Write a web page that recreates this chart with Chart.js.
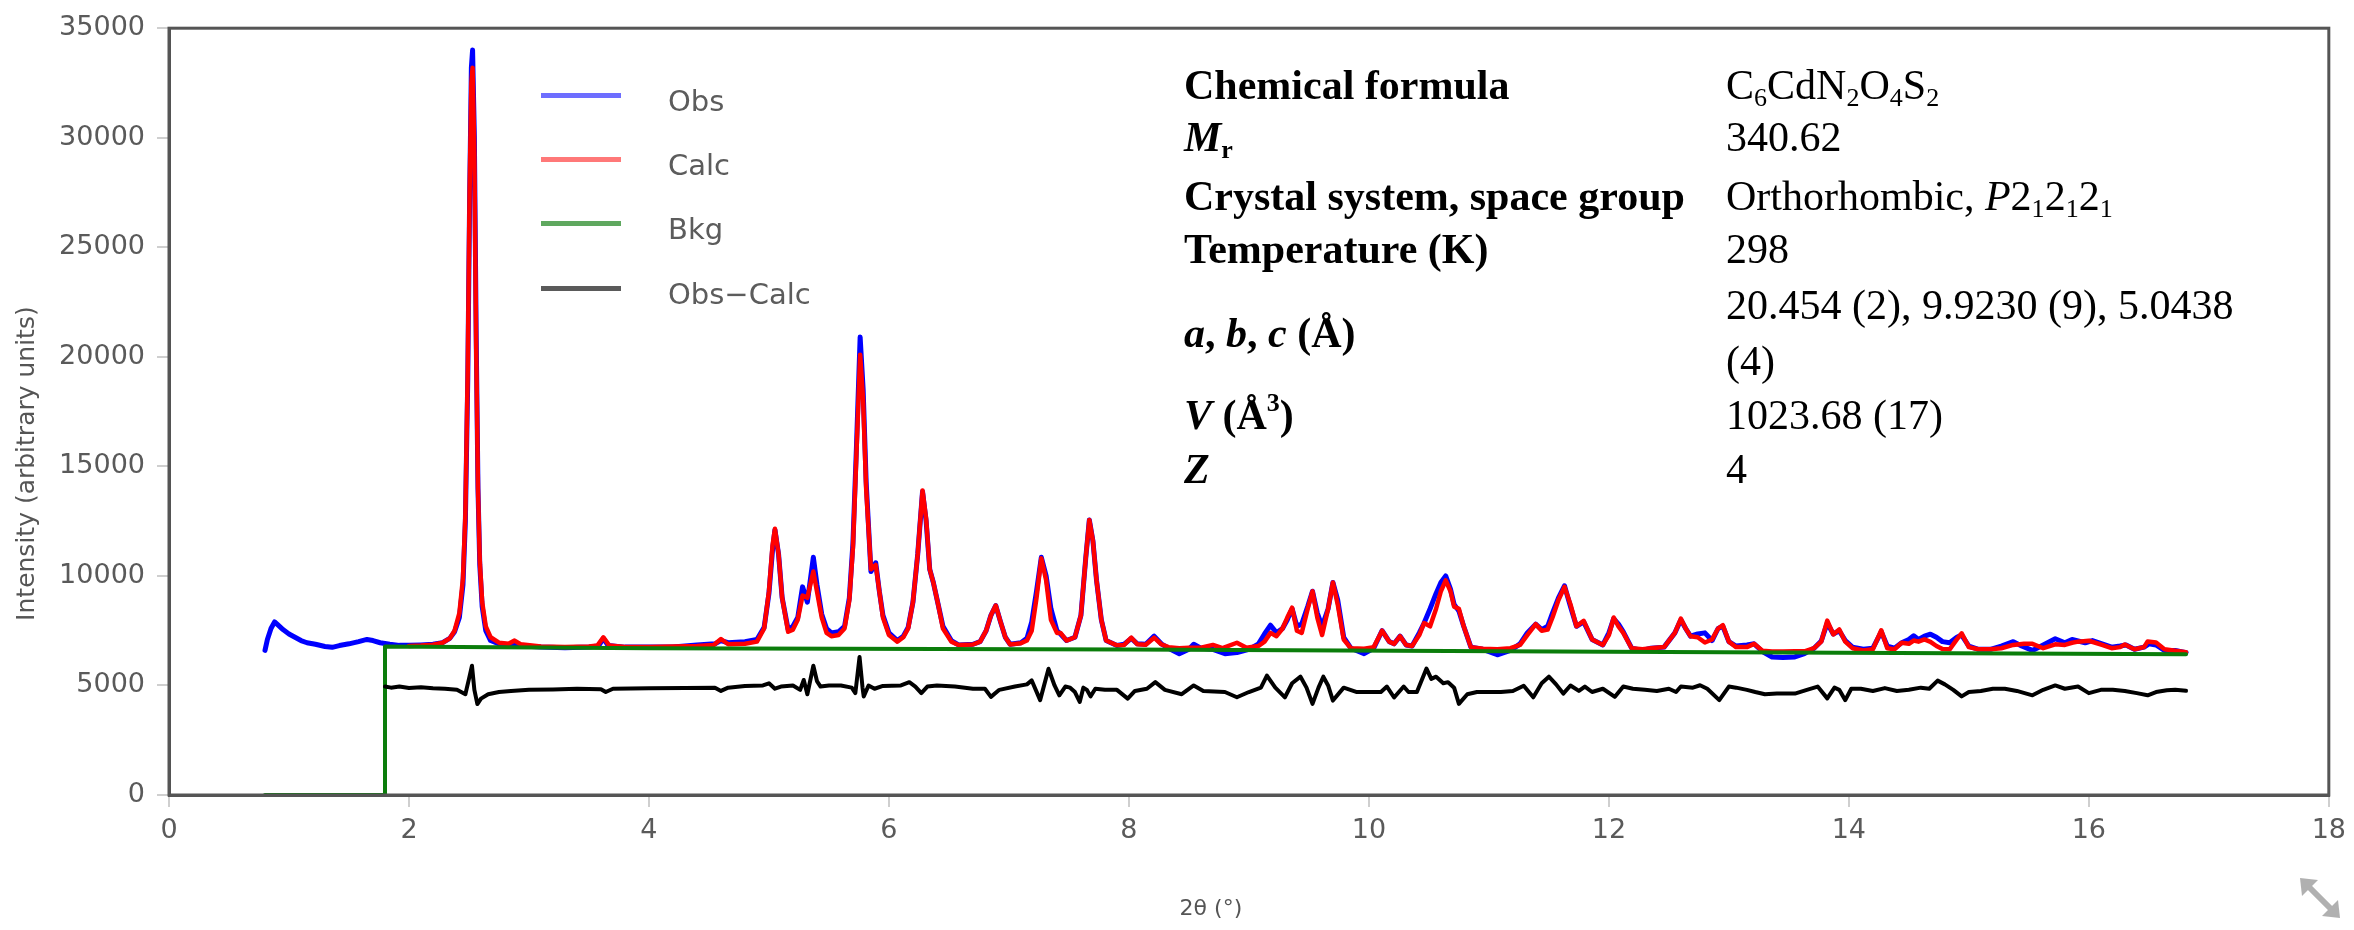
<!DOCTYPE html>
<html>
<head>
<meta charset="utf-8">
<script src="https://cdn.jsdelivr.net/npm/chart.js@4.4.1/dist/chart.umd.min.js"></script>
<style>
  html, body { margin: 0; padding: 0; background: #fff; }
  #wrap { position: relative; width: 2354px; height: 930px; overflow: hidden; }
  #chart { position: absolute; left: 0; top: 0; }
  .leg-line { position: absolute; left: 541px; width: 80px; height: 5px; }
  .leg-text { position: absolute; left: 668px; font: 29px "DejaVu Sans", sans-serif; color: #5c5c5c; line-height: 34px; height: 34px; }
  .cell { position: absolute; font-family: "Liberation Serif", "Times New Roman", serif; font-size: 42px; color: #000; line-height: 50px; height: 50px; white-space: nowrap; }
  .lab { left: 1184px; font-weight: bold; }
  .val { left: 1726px; }
  .cell sub { font-size: 0.62em; vertical-align: -0.28em; line-height: 0; }
  .cell sup { font-size: 0.62em; vertical-align: 0.7em; line-height: 0; }
  #resize { position: absolute; left: 2298px; top: 876px; width: 44px; height: 44px; }
</style>
</head>
<body>
<div id="wrap">
  <canvas id="chart" width="2354" height="930"></canvas>

  <div class="leg-line" style="top:93px; background:#6e6eff;"></div>
  <div class="leg-text" style="top:84px;">Obs</div>
  <div class="leg-line" style="top:157px; background:#ff7878;"></div>
  <div class="leg-text" style="top:148px;">Calc</div>
  <div class="leg-line" style="top:221px; background:#5fa85f;"></div>
  <div class="leg-text" style="top:212px;">Bkg</div>
  <div class="leg-line" style="top:286px; background:#5a5a5a;"></div>
  <div class="leg-text" style="top:277px;">Obs−Calc</div>

  <div class="cell lab" style="top:60px;">Chemical formula</div>
  <div class="cell val" style="top:60px;">C<sub>6</sub>CdN<sub>2</sub>O<sub>4</sub>S<sub>2</sub></div>
  <div class="cell lab" style="top:112px;"><i>M</i><sub>r</sub></div>
  <div class="cell val" style="top:112px;">340.62</div>
  <div class="cell lab" style="top:171px;">Crystal system, space group</div>
  <div class="cell val" style="top:171px;">Orthorhombic, <i>P</i>2<sub>1</sub>2<sub>1</sub>2<sub>1</sub></div>
  <div class="cell lab" style="top:224px;">Temperature (K)</div>
  <div class="cell val" style="top:224px;">298</div>
  <div class="cell lab" style="top:308px;"><i>a</i>, <i>b</i>, <i>c</i> (Å)</div>
  <div class="cell val" style="top:280px;">20.454 (2), 9.9230 (9), 5.0438</div>
  <div class="cell val" style="top:336px;">(4)</div>
  <div class="cell lab" style="top:390px;"><i>V</i> (Å<sup>3</sup>)</div>
  <div class="cell val" style="top:390px;">1023.68 (17)</div>
  <div class="cell lab" style="top:444px;"><i>Z</i></div>
  <div class="cell val" style="top:444px;">4</div>

  <svg id="resize" viewBox="0 0 44 44">
    <g stroke="#b0b0b0" stroke-width="6" fill="none" stroke-linecap="butt">
      <line x1="8" y1="8" x2="36" y2="36"/>
    </g>
    <polygon points="2,2 20,4 4,20" fill="#b0b0b0"/>
    <polygon points="42,42 24,40 40,24" fill="#b0b0b0"/>
  </svg>
</div>

<script>
// 2-theta (deg) and intensity values
const obsTheta = [0.80, 0.82, 0.85, 0.88, 0.91, 0.95, 1.00, 1.05, 1.10, 1.15, 1.22, 1.30, 1.36, 1.42, 1.50, 1.58, 1.65, 1.70, 1.76, 1.84,
    1.92, 2.00, 2.10, 2.20, 2.28, 2.34, 2.38, 2.42, 2.45, 2.47, 2.49, 2.505, 2.52, 2.53, 2.545, 2.56, 2.575, 2.59, 2.61, 2.64,
    2.68, 2.75, 2.85, 2.95, 3.10, 3.30, 3.50, 3.58, 3.62, 3.66, 3.80, 4.00, 4.20, 4.40, 4.55, 4.60, 4.66, 4.80, 4.90, 4.96,
    5.00, 5.03, 5.05, 5.08, 5.11, 5.16, 5.20, 5.24, 5.28, 5.32, 5.37, 5.40, 5.44, 5.48, 5.52, 5.58, 5.63, 5.67, 5.70, 5.73,
    5.76, 5.785, 5.81, 5.85, 5.89, 5.92, 5.95, 6.00, 6.07, 6.12, 6.16, 6.20, 6.24, 6.28, 6.31, 6.34, 6.37, 6.41, 6.45, 6.52,
    6.58, 6.70, 6.76, 6.81, 6.85, 6.89, 6.93, 6.97, 7.01, 7.10, 7.15, 7.19, 7.23, 7.27, 7.31, 7.35, 7.40, 7.43, 7.48, 7.55,
    7.60, 7.64, 7.67, 7.70, 7.73, 7.77, 7.81, 7.90, 7.96, 8.02, 8.07, 8.14, 8.21, 8.27, 8.33, 8.42, 8.50, 8.54, 8.60, 8.70,
    8.80, 8.90, 9.00, 9.08, 9.13, 9.18, 9.23, 9.28, 9.32, 9.36, 9.40, 9.44, 9.49, 9.53, 9.57, 9.61, 9.66, 9.70, 9.74, 9.79,
    9.85, 9.96, 10.04, 10.11, 10.17, 10.21, 10.26, 10.31, 10.36, 10.42, 10.46, 10.51, 10.56, 10.60, 10.64, 10.68, 10.71, 10.75, 10.79, 10.85,
    10.95, 11.07, 11.18, 11.26, 11.32, 11.39, 11.44, 11.49, 11.53, 11.58, 11.63, 11.68, 11.73, 11.79, 11.86, 11.95, 12.00, 12.04, 12.08, 12.12,
    12.19, 12.28, 12.35, 12.46, 12.55, 12.60, 12.64, 12.68, 12.74, 12.80, 12.86, 12.91, 12.95, 13.00, 13.06, 13.15, 13.21, 13.28, 13.36, 13.45,
    13.55, 13.63, 13.71, 13.77, 13.82, 13.87, 13.92, 13.97, 14.03, 14.12, 14.20, 14.27, 14.32, 14.38, 14.44, 14.50, 14.54, 14.58, 14.63, 14.68,
    14.73, 14.78, 14.84, 14.90, 14.94, 15.00, 15.08, 15.18, 15.27, 15.37, 15.44, 15.53, 15.62, 15.72, 15.80, 15.86, 15.91, 15.97, 16.03, 16.11,
    16.19, 16.26, 16.31, 16.38, 16.46, 16.50, 16.56, 16.63, 16.72, 16.81];
const obsCounts = [6600, 7100, 7600, 7900, 7750, 7550, 7350, 7200, 7050, 6950, 6880, 6780, 6740, 6820, 6900, 7000, 7100, 7050, 6950, 6880,
    6830, 6830, 6850, 6880, 6950, 7150, 7450, 8100, 9600, 12500, 19000, 27000, 33200, 34000, 30000, 21000, 14000, 10500, 8600, 7500,
    7050, 6900, 6850, 6800, 6750, 6720, 6760, 6800, 7150, 6820, 6750, 6750, 6760, 6850, 6900, 7050, 6950, 7000, 7100, 7650,
    9200, 11200, 12100, 11000, 9000, 7550, 7700, 8100, 9500, 8800, 10850, 9600, 8250, 7600, 7400, 7450, 7700, 9000, 11500, 16000,
    20900, 18500, 14300, 10200, 10600, 9300, 8200, 7400, 7050, 7250, 7650, 8800, 11000, 13850, 12500, 10300, 9700, 8700, 7700, 7050,
    6850, 6880, 7000, 7500, 8200, 8650, 7900, 7200, 6880, 6950, 7150, 7900, 9300, 10850, 10000, 8500, 7500, 7350, 7050, 7200,
    8200, 10800, 12550, 11600, 9800, 8000, 7050, 6820, 6880, 7150, 6900, 6880, 7250, 6900, 6700, 6450, 6650, 6880, 6700, 6650,
    6450, 6500, 6650, 6900, 7350, 7750, 7400, 7600, 8000, 8500, 7700, 7800, 8600, 9300, 8300, 7700, 8500, 9700, 8900, 7200,
    6700, 6450, 6700, 7500, 7000, 6900, 7250, 6850, 6800, 7400, 7850, 8500, 9200, 9700, 10000, 9400, 8700, 8400, 7700, 6750,
    6650, 6400, 6600, 6900, 7400, 7800, 7550, 7700, 8300, 9000, 9550, 8600, 7700, 7900, 7100, 6850, 7400, 8050, 7800, 7450,
    6700, 6600, 6700, 6750, 7400, 8000, 7600, 7250, 7350, 7400, 7050, 7600, 7700, 7000, 6800, 6850, 6900, 6550, 6300, 6280,
    6300, 6450, 6700, 7030, 7850, 7350, 7500, 7050, 6750, 6650, 6700, 7450, 6800, 6700, 6950, 7100, 7270, 7100, 7250, 7340,
    7200, 7000, 6950, 7200, 7300, 6800, 6650, 6650, 6800, 7000, 6800, 6600, 6850, 7130, 6950, 7100, 7030, 6950, 7050, 6900,
    6750, 6800, 6850, 6650, 6750, 6900, 6850, 6600, 6600, 6500];

const calcTheta = [2.00, 2.10, 2.20, 2.28, 2.34, 2.38, 2.42, 2.45, 2.47, 2.49, 2.505, 2.52, 2.53, 2.545, 2.56, 2.575, 2.59, 2.61, 2.64, 2.68,
    2.75, 2.83, 2.88, 2.93, 3.10, 3.30, 3.50, 3.57, 3.62, 3.67, 3.80, 4.00, 4.20, 4.40, 4.54, 4.60, 4.66, 4.80, 4.90, 4.96,
    5.00, 5.03, 5.05, 5.08, 5.11, 5.16, 5.20, 5.24, 5.28, 5.32, 5.37, 5.40, 5.44, 5.48, 5.52, 5.58, 5.63, 5.67, 5.70, 5.73,
    5.76, 5.785, 5.81, 5.85, 5.89, 5.92, 5.95, 6.00, 6.07, 6.12, 6.16, 6.20, 6.24, 6.28, 6.31, 6.34, 6.37, 6.41, 6.45, 6.52,
    6.58, 6.70, 6.76, 6.81, 6.85, 6.89, 6.93, 6.97, 7.01, 7.10, 7.15, 7.19, 7.23, 7.27, 7.31, 7.35, 7.40, 7.43, 7.48, 7.55,
    7.60, 7.64, 7.67, 7.70, 7.73, 7.77, 7.81, 7.90, 7.96, 8.02, 8.07, 8.14, 8.21, 8.27, 8.33, 8.42, 8.50, 8.60, 8.70, 8.78,
    8.90, 8.98, 9.08, 9.13, 9.18, 9.23, 9.28, 9.32, 9.36, 9.40, 9.44, 9.49, 9.53, 9.57, 9.61, 9.66, 9.70, 9.74, 9.79, 9.85,
    9.96, 10.04, 10.11, 10.17, 10.21, 10.26, 10.31, 10.36, 10.42, 10.46, 10.51, 10.56, 10.60, 10.64, 10.68, 10.71, 10.75, 10.79, 10.85, 10.95,
    11.07, 11.18, 11.26, 11.32, 11.39, 11.44, 11.49, 11.53, 11.58, 11.63, 11.68, 11.73, 11.79, 11.86, 11.95, 12.00, 12.04, 12.08, 12.12, 12.19,
    12.28, 12.35, 12.46, 12.55, 12.60, 12.64, 12.68, 12.74, 12.80, 12.86, 12.91, 12.95, 13.00, 13.06, 13.15, 13.21, 13.28, 13.36, 13.45, 13.55,
    13.63, 13.71, 13.77, 13.82, 13.87, 13.92, 13.97, 14.03, 14.12, 14.20, 14.27, 14.32, 14.38, 14.44, 14.50, 14.54, 14.58, 14.63, 14.68, 14.73,
    14.78, 14.84, 14.90, 14.94, 15.00, 15.08, 15.18, 15.27, 15.37, 15.46, 15.53, 15.62, 15.72, 15.80, 15.86, 15.91, 16.00, 16.11, 16.19, 16.26,
    16.30, 16.38, 16.46, 16.49, 16.56, 16.63, 16.72, 16.81];
const calcCounts = [6800, 6820, 6860, 6950, 7150, 7500, 8300, 9900, 12800, 19500, 27500, 32500, 33200, 29300, 20500, 14000, 10700, 8800, 7700, 7200,
    6950, 6900, 7050, 6880, 6780, 6750, 6780, 6820, 7200, 6820, 6760, 6760, 6780, 6800, 6850, 7120, 6880, 6900, 7000, 7600,
    9300, 11400, 12150, 11000, 9000, 7450, 7550, 8000, 9100, 9000, 10200, 9300, 8100, 7400, 7250, 7300, 7600, 8900, 11300, 15700,
    20100, 18000, 14000, 10300, 10500, 9300, 8100, 7300, 7000, 7200, 7600, 8800, 11000, 13900, 12600, 10300, 9700, 8700, 7600, 7000,
    6850, 6870, 7000, 7500, 8200, 8650, 7900, 7200, 6870, 6930, 7050, 7500, 9000, 10800, 9800, 8000, 7400, 7400, 7050, 7200,
    8200, 10800, 12550, 11600, 9800, 8000, 7050, 6830, 6850, 7180, 6880, 6860, 7180, 6880, 6750, 6700, 6720, 6720, 6850, 6700,
    6950, 6720, 6800, 7000, 7400, 7250, 7600, 8100, 8550, 7500, 7400, 8500, 9300, 8100, 7300, 8500, 9700, 8700, 7100, 6700,
    6680, 6750, 7500, 7000, 6900, 7250, 6850, 6800, 7300, 7850, 7700, 8500, 9300, 9800, 9300, 8600, 8500, 7700, 6750, 6680,
    6650, 6700, 6850, 7300, 7800, 7500, 7550, 8100, 8900, 9500, 8700, 7700, 7950, 7100, 6850, 7300, 8100, 7700, 7400, 6700,
    6650, 6700, 6750, 7400, 8050, 7600, 7250, 7200, 6960, 7100, 7600, 7750, 7000, 6750, 6750, 6900, 6580, 6550, 6550, 6560,
    6560, 6700, 7000, 7960, 7330, 7560, 7000, 6700, 6600, 6650, 7520, 6700, 6650, 6950, 6900, 7050, 7000, 7100, 6990, 6800,
    6660, 6650, 7100, 7380, 6750, 6650, 6650, 6700, 6850, 6900, 6900, 6700, 6880, 6850, 6950, 7000, 7040, 6850, 6700, 6750,
    6870, 6650, 6750, 7010, 6960, 6650, 6580, 6520];

const bkgTheta = [0.80, 1.795, 1.80, 4.00, 8.00, 12.00, 16.81];
const bkgCounts = [0, 0, 6780, 6700, 6640, 6540, 6420];

const diffTheta = [1.80, 1.85, 1.92, 2.00, 2.10, 2.20, 2.30, 2.40, 2.47, 2.50, 2.525, 2.545, 2.57, 2.60, 2.66, 2.75, 2.85, 3.00, 3.20, 3.40,
    3.60, 3.64, 3.70, 4.00, 4.30, 4.55, 4.60, 4.66, 4.80, 4.95, 5.00, 5.05, 5.10, 5.20, 5.26, 5.29, 5.32, 5.37, 5.40, 5.43,
    5.50, 5.60, 5.69, 5.72, 5.755, 5.78, 5.79, 5.83, 5.88, 5.95, 6.10, 6.17, 6.22, 6.27, 6.32, 6.40, 6.55, 6.70, 6.80, 6.85,
    6.92, 7.05, 7.15, 7.19, 7.26, 7.33, 7.38, 7.42, 7.47, 7.51, 7.55, 7.59, 7.62, 7.65, 7.68, 7.72, 7.80, 7.90, 7.99, 8.05,
    8.15, 8.22, 8.30, 8.44, 8.54, 8.62, 8.80, 8.90, 9.00, 9.10, 9.15, 9.22, 9.30, 9.36, 9.43, 9.48, 9.53, 9.58, 9.62, 9.66,
    9.70, 9.79, 9.90, 10.00, 10.10, 10.15, 10.21, 10.29, 10.33, 10.40, 10.48, 10.52, 10.56, 10.62, 10.66, 10.71, 10.75, 10.82, 10.90, 11.00,
    11.10, 11.20, 11.29, 11.37, 11.44, 11.50, 11.56, 11.62, 11.68, 11.75, 11.80, 11.86, 11.95, 12.05, 12.12, 12.20, 12.30, 12.40, 12.50, 12.56,
    12.60, 12.70, 12.76, 12.82, 12.92, 13.00, 13.06, 13.15, 13.22, 13.30, 13.40, 13.55, 13.65, 13.74, 13.82, 13.88, 13.92, 13.97, 14.02, 14.10,
    14.20, 14.30, 14.40, 14.50, 14.60, 14.67, 14.74, 14.80, 14.87, 14.94, 15.00, 15.10, 15.20, 15.30, 15.40, 15.53, 15.62, 15.72, 15.80, 15.91,
    16.00, 16.10, 16.20, 16.30, 16.40, 16.49, 16.56, 16.65, 16.72, 16.81];
const diffCounts = [4950, 4900, 4950, 4880, 4920, 4870, 4850, 4800, 4600, 5300, 5900, 4800, 4150, 4400, 4600, 4700, 4750, 4800, 4820, 4850,
    4830, 4700, 4850, 4870, 4880, 4900, 4750, 4900, 4980, 5000, 5100, 4850, 4950, 5000, 4800, 5250, 4600, 5900, 5200, 4950,
    5000, 5000, 4900, 4650, 6300, 4900, 4500, 5000, 4850, 4980, 5000, 5150, 4950, 4650, 4950, 5000, 4950, 4850, 4850, 4480,
    4800, 4950, 5050, 5230, 4330, 5760, 5000, 4550, 4950, 4900, 4700, 4250, 4900, 4800, 4500, 4850, 4800, 4800, 4400, 4750,
    4850, 5150, 4800, 4600, 5000, 4750, 4700, 4460, 4700, 4900, 5450, 4900, 4460, 5100, 5400, 4900, 4160, 4900, 5400, 5000,
    4310, 4900, 4700, 4700, 4700, 4950, 4450, 4950, 4700, 4700, 5770, 5300, 5400, 5100, 5150, 4900, 4160, 4600, 4700, 4700,
    4700, 4750, 4990, 4460, 5100, 5400, 5050, 4630, 5000, 4750, 4950, 4700, 4850, 4480, 4950, 4850, 4800, 4750, 4850, 4700,
    4950, 4900, 5010, 4850, 4330, 4950, 4900, 4800, 4700, 4600, 4630, 4630, 4800, 4950, 4410, 4900, 4800, 4330, 4850, 4850,
    4750, 4880, 4750, 4800, 4900, 4850, 5220, 5050, 4800, 4500, 4700, 4750, 4850, 4850, 4750, 4550, 4800, 5000, 4850, 4950,
    4650, 4800, 4800, 4750, 4650, 4550, 4700, 4780, 4800, 4760];

const xTickValues = [0, 2, 4, 6, 8, 10, 12, 14, 16, 18];
const yTickValues = [0, 5000, 10000, 15000, 20000, 25000, 30000, 35000];

function toPoints(xs, ys) {
    return xs.map((x, i) => ({ x: x, y: ys[i] }));
}

const tickFont = { family: 'DejaVu Sans', size: 27 };
const tickColor = '#5a5a5a';

// plot frame and both axis titles
const framePlugin = {
    id: 'frame',
    afterDraw(chart) {
        const { ctx, chartArea } = chart;
        ctx.save();
        ctx.strokeStyle = '#555';
        ctx.lineWidth = 3;
        ctx.strokeRect(chartArea.left, chartArea.top, chartArea.right - chartArea.left, chartArea.bottom - chartArea.top);
        ctx.fillStyle = '#555';
        ctx.textAlign = 'center';
        ctx.textBaseline = 'middle';
        ctx.font = '22px "DejaVu Sans"';
        const midX = (chartArea.left + chartArea.right) / 2;
        ctx.fillText('2θ (°)', midX - 38, chart.height - 21);
        ctx.translate(27, (chartArea.top + chartArea.bottom) / 2 + 52);
        ctx.rotate(-Math.PI / 2);
        ctx.font = '25px "DejaVu Sans"';
        ctx.fillText('Intensity (arbitrary units)', 0, 0);
        ctx.restore();
    }
};

const lineStyle = { pointRadius: 0, tension: 0, borderJoinStyle: 'round', borderCapStyle: 'round', fill: false };

new Chart(document.getElementById('chart').getContext('2d'), {
    type: 'line',
    data: {
        datasets: [
            { label: 'Obs', data: toPoints(obsTheta, obsCounts), borderColor: '#0000ff', borderWidth: 5, order: 4, ...lineStyle },
            { label: 'Calc', data: toPoints(calcTheta, calcCounts), borderColor: '#ff0000', borderWidth: 4.5, order: 3, ...lineStyle },
            { label: 'Bkg', data: toPoints(bkgTheta, bkgCounts), borderColor: '#0b7d0b', borderWidth: 4, order: 2, ...lineStyle },
            { label: 'Obs-Calc', data: toPoints(diffTheta, diffCounts), borderColor: '#000000', borderWidth: 4, order: 1, ...lineStyle }
        ]
    },
    options: {
        responsive: false,
        devicePixelRatio: 1,
        animation: false,
        layout: { padding: { top: 24, right: 22, left: 0, bottom: 0 } },
        plugins: { legend: { display: false }, tooltip: { enabled: false } },
        scales: {
            x: {
                type: 'linear',
                min: 0,
                max: 18,
                afterBuildTicks: scale => { scale.ticks = xTickValues.map(v => ({ value: v })); },
                afterFit: scale => { scale.height = 135; },
                ticks: { font: tickFont, color: tickColor, padding: 8, maxRotation: 0 },
                grid: { drawOnChartArea: false, tickLength: 12, color: '#cfcfcf', lineWidth: 2 },
                border: { color: '#555', width: 3 }
            },
            y: {
                min: 0,
                max: 35000,
                afterBuildTicks: scale => { scale.ticks = yTickValues.map(v => ({ value: v })); },
                afterFit: scale => { scale.width = 169; },
                ticks: { font: tickFont, color: tickColor, padding: 12, callback: v => String(v) },
                grid: { drawOnChartArea: false, tickLength: 12, color: '#cfcfcf', lineWidth: 2 },
                border: { color: '#555', width: 3 }
            }
        }
    },
    plugins: [framePlugin]
});
</script>
</body>
</html>
